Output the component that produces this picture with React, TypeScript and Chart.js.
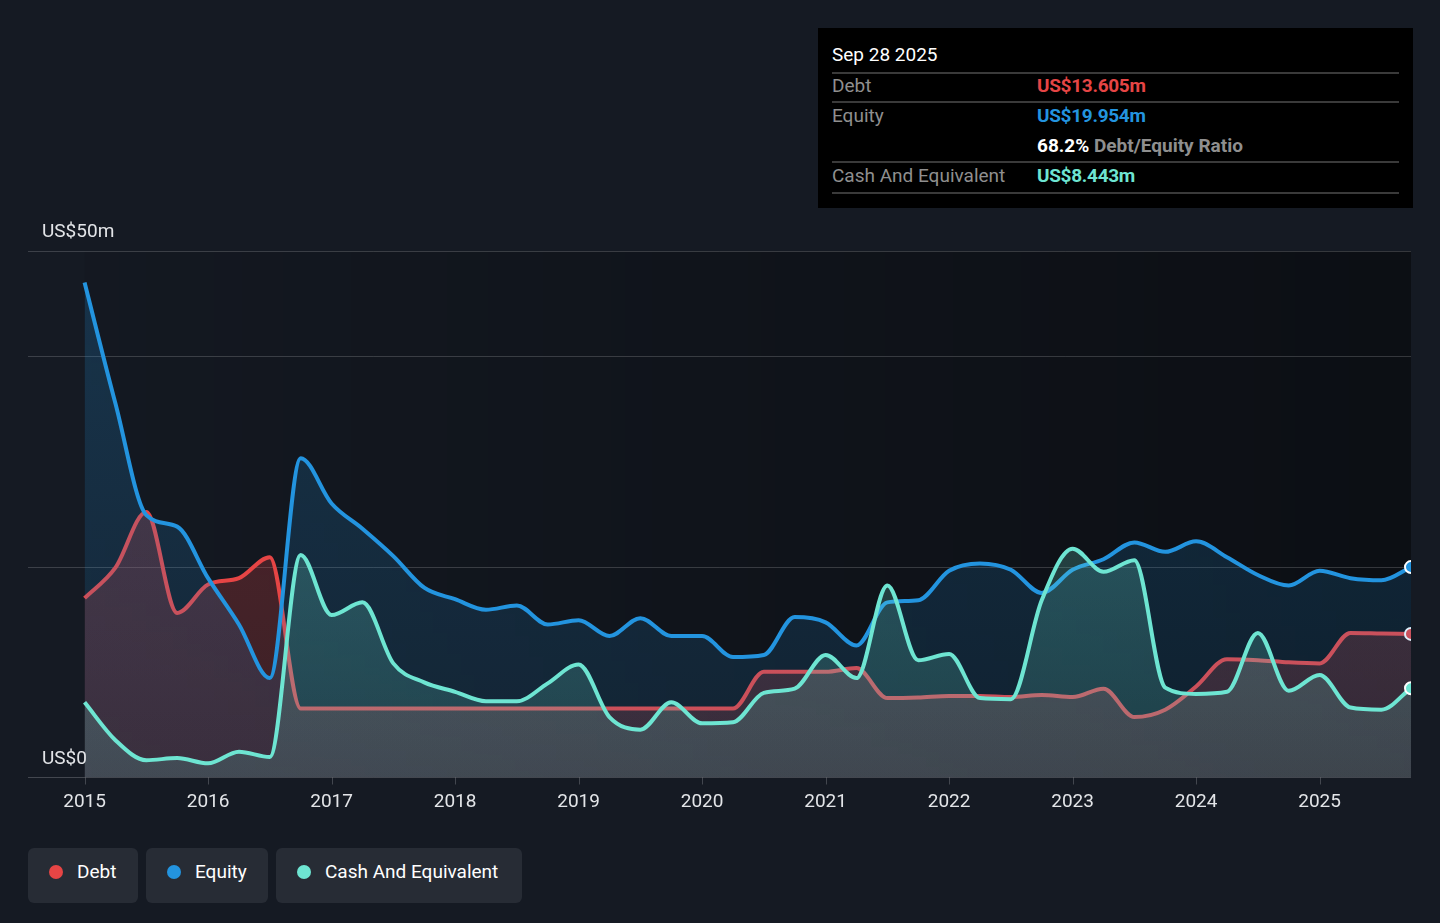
import React, { useEffect, useRef } from "react";
import { Chart, registerables } from "chart.js";

Chart.register(...registerables);

// ---- data (US$ millions) ----
const dates = [
  2015.0, 2015.25, 2015.5, 2015.75, 2016.0, 2016.25, 2016.5, 2016.75,
  2017.0, 2017.25, 2017.5, 2017.75, 2018.0, 2018.25, 2018.5, 2018.75,
  2019.0, 2019.25, 2019.5, 2019.75, 2020.0, 2020.25, 2020.5, 2020.75,
  2021.0, 2021.25, 2021.5, 2021.75, 2022.0, 2022.25, 2022.5, 2022.75,
  2023.0, 2023.25, 2023.5, 2023.75, 2024.0, 2024.25, 2024.5, 2024.75,
  2025.0, 2025.25, 2025.5, 2025.74,
];
const debt = [
  17.0, 19.9, 25.2, 15.6, 18.3, 18.9, 20.9, 6.5,
  6.5, 6.5, 6.5, 6.5, 6.5, 6.5, 6.5, 6.5,
  6.5, 6.5, 6.5, 6.5, 6.5, 6.5, 10.0, 10.0,
  10.0, 10.35, 7.5, 7.55, 7.7, 7.7, 7.6, 7.8,
  7.6, 8.4, 5.7, 6.4, 8.6, 11.2, 11.1, 10.9,
  10.8, 13.7, 13.65, 13.605,
];
const equity = [
  47.0, 35.5, 24.9, 23.8, 18.9, 14.5, 9.4, 30.3,
  26.0, 23.6, 21.0, 18.0, 16.9, 15.9, 16.3, 14.5,
  14.9, 13.4, 15.1, 13.4, 13.4, 11.4, 11.6, 15.2,
  14.7, 12.5, 16.6, 16.8, 19.6, 20.3, 19.7, 17.5,
  19.7, 20.7, 22.3, 21.4, 22.4, 20.9, 19.2, 18.2,
  19.6, 18.9, 18.7, 19.954,
];
const cash = [
  7.1, 3.5, 1.6, 1.8, 1.3, 2.4, 1.9, 21.1,
  15.4, 16.6, 10.8, 9.0, 8.1, 7.2, 7.2, 8.9,
  10.7, 5.7, 4.5, 7.1, 5.1, 5.2, 8.0, 8.4,
  11.6, 9.4, 18.2, 11.1, 11.7, 7.5, 7.4, 16.8,
  21.7, 19.5, 20.6, 8.5, 7.9, 8.1, 13.7, 8.2,
  9.7, 6.6, 6.4, 8.443,
];
const yearTicks = [2015, 2016, 2017, 2018, 2019, 2020, 2021, 2022, 2023, 2024, 2025];
const gridValues = [20, 40, 50];
const yTopLabel = "US$50m";
const yZeroLabel = "US$0";

const seriesNames = ["Debt", "Equity", "Cash And Equivalent"];
const seriesColors = ["#e64545", "#2394df", "#6ee5d2"];
const seriesRgb = [
  [230, 69, 69],
  [35, 148, 223],
  [110, 229, 210],
];

const FONT = "Roboto, 'Noto Sans', sans-serif";
const PAGE_BG = "#151a23";

const makeFill = (rgb: number[], aTop: number, aBot: number) => (ctx: any) => {
  const chart = ctx.chart;
  const area = chart.chartArea;
  if (!area) return `rgba(${rgb[0]},${rgb[1]},${rgb[2]},${aTop})`;
  const g = chart.ctx.createLinearGradient(0, area.top, 0, area.bottom);
  g.addColorStop(0, `rgba(${rgb[0]},${rgb[1]},${rgb[2]},${aTop})`);
  g.addColorStop(1, `rgba(${rgb[0]},${rgb[1]},${rgb[2]},${aBot})`);
  return g;
};

const lastOnly = (n: number, r: number) => Array.from({ length: n }, (_, i) => (i === n - 1 ? r : 0));

const decorPlugin = {
  id: "decor",
  beforeDatasetsDraw(chart: any) {
    const { ctx, chartArea, scales } = chart;
    const x = scales.x;
    const y = scales.y;
    ctx.save();
    // plot background gradient
    const x0 = x.getPixelForValue(dates[0]);
    const g = ctx.createLinearGradient(x0, 0, chartArea.right, 0);
    g.addColorStop(0, "rgba(0,0,0,0.04)");
    g.addColorStop(1, "rgba(0,0,0,0.42)");
    ctx.fillStyle = g;
    ctx.fillRect(x0, chartArea.top, chartArea.right - x0, chartArea.bottom - chartArea.top);
    // grid lines
    ctx.strokeStyle = "rgba(255,255,255,0.17)";
    ctx.lineWidth = 1;
    gridValues.forEach((v) => {
      const py = Math.round(y.getPixelForValue(v)) + 0.5;
      ctx.beginPath();
      ctx.moveTo(chartArea.left, py);
      ctx.lineTo(chartArea.right, py);
      ctx.stroke();
    });
    ctx.restore();
  },
  afterDatasetsDraw(chart: any) {
    const { ctx, chartArea, scales } = chart;
    const x = scales.x;
    const y = scales.y;
    ctx.save();
    ctx.strokeStyle = "rgba(255,255,255,0.2)";
    ctx.lineWidth = 1;
    const py = Math.round(y.getPixelForValue(0)) + 0.5;
    ctx.beginPath();
    ctx.moveTo(chartArea.left, py);
    ctx.lineTo(chartArea.right, py);
    ctx.stroke();
    yearTicks.forEach((yr) => {
      const px = Math.round(x.getPixelForValue(yr)) + 0.5;
      ctx.beginPath();
      ctx.moveTo(px, py);
      ctx.lineTo(px, py + 7);
      ctx.stroke();
    });
    ctx.fillStyle = "#e3e5e8";
    ctx.font = `19px ${FONT}`;
    ctx.textAlign = "center";
    ctx.textBaseline = "middle";
    yearTicks.forEach((yr) => {
      ctx.fillText(String(yr), x.getPixelForValue(yr), py + 25);
    });
    ctx.textAlign = "left";
    ctx.fillText(yTopLabel, 42, y.getPixelForValue(50) - 19);
    ctx.fillText(yZeroLabel, 42, y.getPixelForValue(0) - 18);
    ctx.restore();
  },
};

function ChartCanvas() {
  const ref = useRef<HTMLCanvasElement | null>(null);
  useEffect(() => {
    if (!ref.current) return;
    const toPts = (arr: number[]) => arr.map((v, i) => ({ x: dates[i], y: v }));
    const n = dates.length;
    const mk = (idx: number, data: number[], order: number, aTop: number, aBot: number) => ({
      label: seriesNames[idx],
      data: toPts(data),
      borderColor: seriesColors[idx],
      backgroundColor: makeFill(seriesRgb[idx], aTop, aBot),
      fill: "origin",
      borderWidth: 4,
      cubicInterpolationMode: "monotone",
      pointRadius: lastOnly(n, 6),
      pointHoverRadius: 0,
      pointBackgroundColor: seriesColors[idx],
      pointBorderColor: "#ffffff",
      pointBorderWidth: 2,
      order,
    });
    const chart = new Chart(ref.current, {
      type: "line",
      data: {
        datasets: [
          mk(2, cash, 1, 0.32, 0.15),
          mk(1, equity, 2, 0.22, 0.12),
          mk(0, debt, 3, 0.3, 0.2),
        ] as any,
      },
      options: {
        responsive: false,
        maintainAspectRatio: false,
        animation: false,
        events: [],
        layout: { padding: { left: 28, right: 29, top: 251, bottom: 146 } },
        scales: {
          x: { type: "linear", min: 2014.542, max: 2025.74, display: false },
          y: { type: "linear", min: 0, max: 50, display: false },
        },
        plugins: {
          legend: { display: false },
          tooltip: { enabled: false },
        },
      } as any,
      plugins: [decorPlugin],
    });
    return () => chart.destroy();
  }, []);
  return (
    <canvas
      ref={ref}
      width={1440}
      height={923}
      style={{ position: "absolute", left: 0, top: 0, width: 1440, height: 923 }}
    />
  );
}

const tipRows = [
  { label: "Debt", value: "US$13.605m", color: seriesColors[0], y: 86 },
  { label: "Equity", value: "US$19.954m", color: seriesColors[1], y: 116 },
  { label: "Cash And Equivalent", value: "US$8.443m", color: seriesColors[2], y: 176 },
];
const sepLines = [72, 101, 161, 192];
const legendBoxes = [
  { left: 28, width: 110 },
  { left: 146, width: 122 },
  { left: 276, width: 246 },
];

export default function App() {
  const text = (extra: React.CSSProperties): React.CSSProperties => ({
    position: "absolute",
    whiteSpace: "nowrap",
    lineHeight: "22px",
    height: 22,
    fontFamily: FONT,
    fontSize: 19,
    ...extra,
  });
  return (
    <div
      style={{
        position: "absolute",
        left: 0,
        top: 0,
        width: 1440,
        height: 923,
        background: PAGE_BG,
        overflow: "hidden",
        fontFamily: FONT,
      }}
    >
      <ChartCanvas />
      {/* info panel */}
      <div
        style={{
          position: "absolute",
          left: 818,
          top: 28,
          width: 595,
          height: 180,
          background: "#000000",
        }}
      />
      <div style={text({ left: 832, top: 55 - 11, color: "#ffffff" })}>Sep 28 2025</div>
      {sepLines.map((ly) => (
        <div
          key={ly}
          style={{ position: "absolute", left: 832, top: ly, width: 567, height: 2, background: "#3a3a3a" }}
        />
      ))}
      {tipRows.map((r) => (
        <React.Fragment key={r.label}>
          <div style={text({ left: 832, top: r.y - 11, color: "#8f8f8f" })}>{r.label}</div>
          <div style={text({ left: 1037, top: r.y - 11, color: r.color, fontWeight: 700, letterSpacing: -0.3 })}>
            {r.value}
          </div>
        </React.Fragment>
      ))}
      <div style={text({ left: 1037, top: 146 - 11, color: "#8f8f8f", fontWeight: 700 })}>
        <span style={{ color: "#ffffff" }}>68.2%</span> Debt/Equity Ratio
      </div>
      {/* legend */}
      {legendBoxes.map((b, i) => (
        <div
          key={seriesNames[i]}
          style={{
            position: "absolute",
            left: b.left,
            top: 848,
            width: b.width,
            height: 55,
            borderRadius: 6,
            background: "#272c35",
          }}
        >
          <div
            style={{
              position: "absolute",
              left: 21,
              top: 17,
              width: 14,
              height: 14,
              borderRadius: 7,
              background: seriesColors[i],
            }}
          />
          <div style={text({ left: 49, top: 13, color: "#ffffff" })}>{seriesNames[i]}</div>
        </div>
      ))}
    </div>
  );
}
